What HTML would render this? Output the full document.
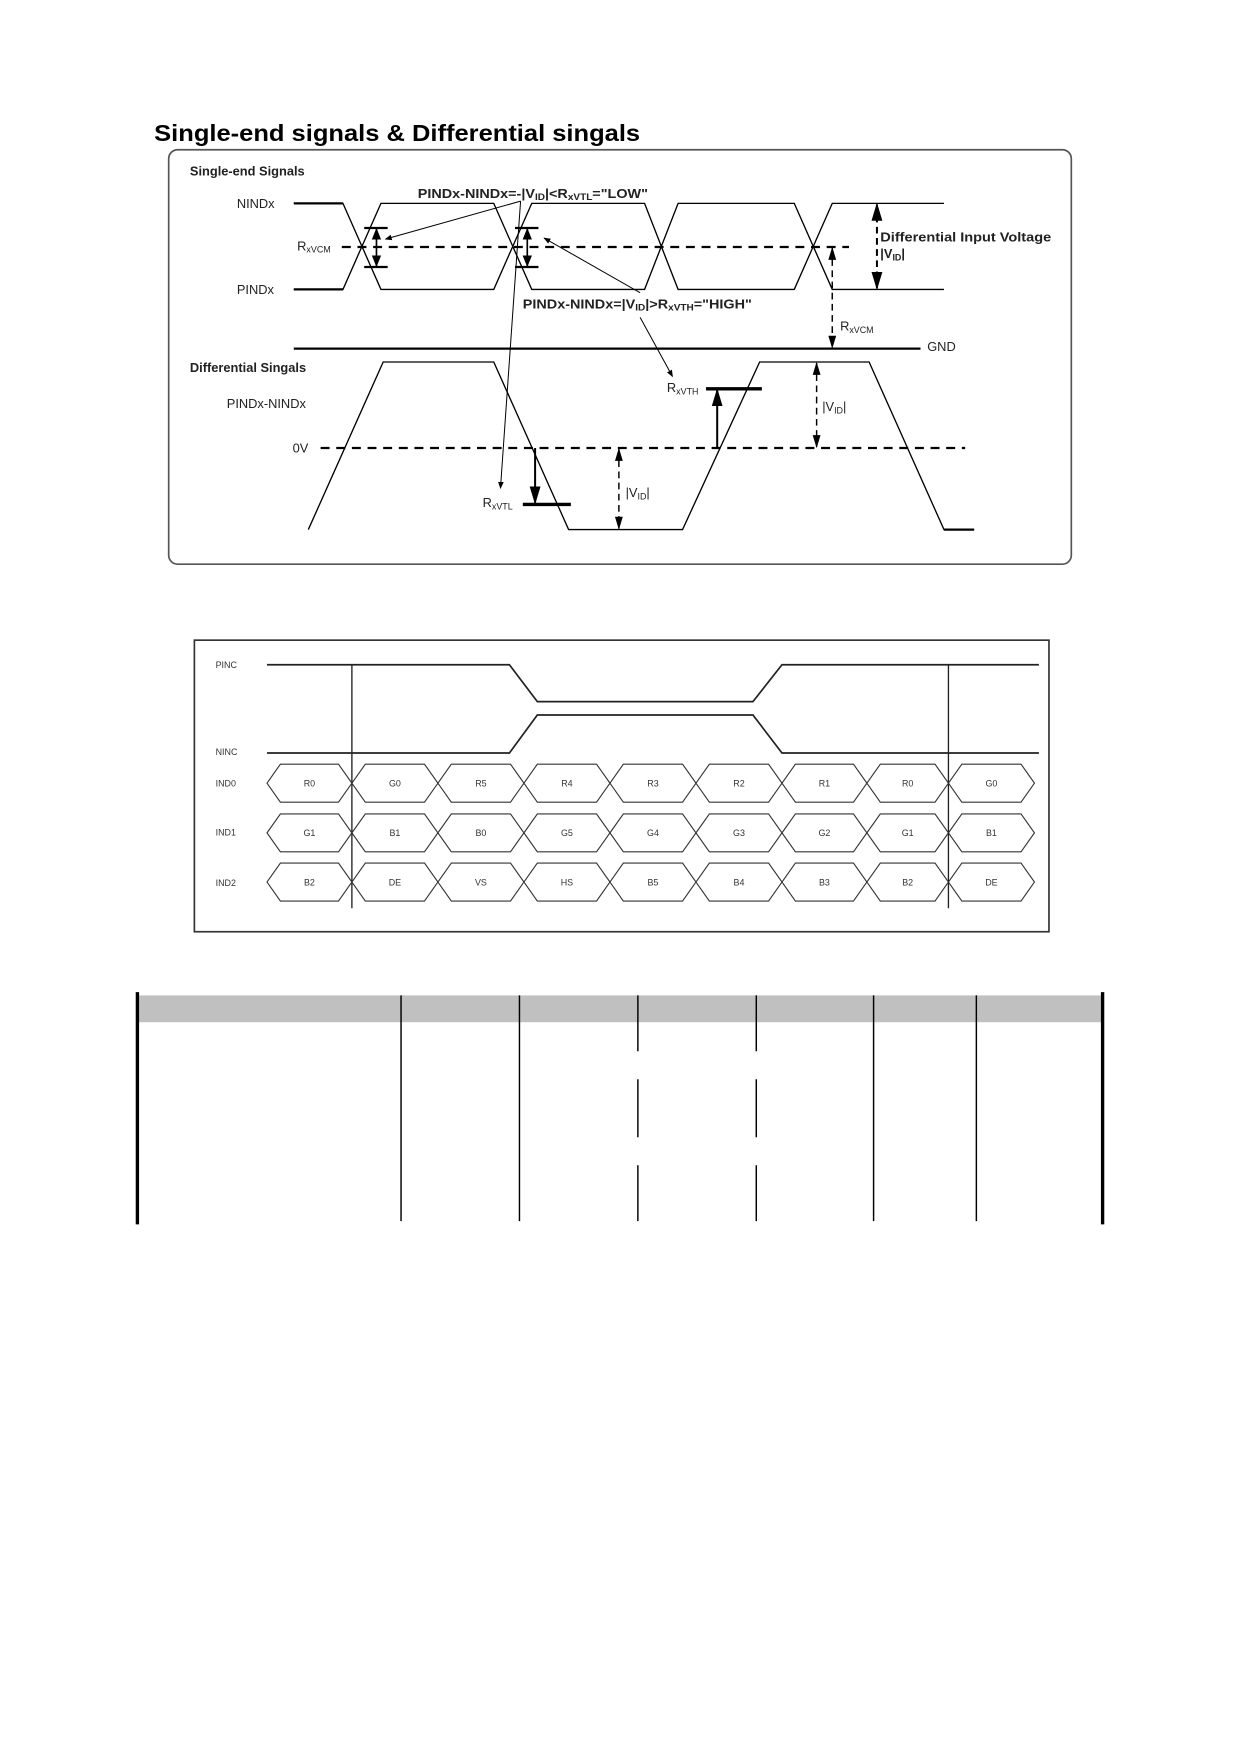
<!DOCTYPE html>
<html><head><meta charset="utf-8"><style>
html,body{margin:0;padding:0;background:#fff}
svg{display:block}
text{font-family:"Liberation Sans",Arial,sans-serif}
</style></head><body>
<svg width="1240" height="1754" viewBox="0 0 1110 1570" xmlns="http://www.w3.org/2000/svg">
<defs>
<marker id="a" viewBox="0 0 10 10" refX="9" refY="5" markerWidth="7" markerHeight="7" orient="auto-start-reverse"><path d="M0,1 L10,5 L0,9 z" fill="#000"/></marker>
<marker id="s" viewBox="0 0 10 10" refX="9" refY="5" markerWidth="9" markerHeight="9" orient="auto-start-reverse"><path d="M0,2 L10,5 L0,8 z" fill="#000"/></marker>
</defs>
<text x="138" y="126" font-size="21" font-weight="bold" textLength="435" lengthAdjust="spacingAndGlyphs">Single-end signals &amp; Differential singals</text>
<rect x="151" y="134" width="808" height="371" rx="8" fill="none" stroke="#555" stroke-width="1.5"/>
<g font-size="11.5" fill="#222">
<text x="170" y="157" font-weight="bold">Single-end Signals</text>
<text x="212" y="186">NINDx</text>
<text x="212" y="263">PINDx</text>
<text x="266" y="224">R<tspan font-size="8" dy="2">xVCM</tspan></text>
<text x="374" y="177" font-weight="bold" textLength="206" lengthAdjust="spacingAndGlyphs">PINDx-NINDx=-|V<tspan font-size="8" dy="2">ID</tspan><tspan dy="-2">|&lt;R</tspan><tspan font-size="8" dy="2">xVTL</tspan><tspan dy="-2">="LOW"</tspan></text>
<text x="468" y="276" font-weight="bold" textLength="205" lengthAdjust="spacingAndGlyphs">PINDx-NINDx=|V<tspan font-size="8" dy="2">ID</tspan><tspan dy="-2">|&gt;R</tspan><tspan font-size="8" dy="2">xVTH</tspan><tspan dy="-2">="HIGH"</tspan></text>
<text x="788" y="216" font-weight="bold" textLength="153" lengthAdjust="spacingAndGlyphs">Differential Input Voltage</text>
<text x="788" y="231" font-weight="bold">|V<tspan font-size="8" dy="2">ID</tspan><tspan dy="-2">|</tspan></text>
<text x="752" y="296">R<tspan font-size="8" dy="2">xVCM</tspan></text>
<text x="830" y="314">GND</text>
<text x="170" y="333" font-weight="bold">Differential Singals</text>
<text x="203" y="365">PINDx-NINDx</text>
<text x="262" y="405">0V</text>
<text x="597" y="351">R<tspan font-size="8" dy="2">xVTH</tspan></text>
<text x="432" y="454">R<tspan font-size="8" dy="2">xVTL</tspan></text>
<text x="736" y="368">|V<tspan font-size="8" dy="2">ID</tspan><tspan dy="-2">|</tspan></text>
<text x="560" y="445">|V<tspan font-size="8" dy="2">ID</tspan><tspan dy="-2">|</tspan></text>
</g>
<g fill="none" stroke="#000" stroke-width="1.2">
<path d="M263,182 H307 L341,259 H442 L476,182 H577 L607,259 H711 L745,182 H845" />
<path d="M263,259 H307 L341,182 H442 L476,259 H577 L607,182 H711 L745,259 H845" />
<path d="M263,182 H307 M263,259 H307" stroke-width="2"/>
<path d="M306,221 H760" stroke-width="2" stroke-dasharray="8,6"/>
<path d="M263,312 H824" stroke-width="2"/>
<path d="M276,474 L343,324 H442 L509,474 H611 L680,324 H778 L845,474 H872"/>
<path d="M845,474 H872" stroke-width="2"/>
<path d="M287,401 H864" stroke-width="2" stroke-dasharray="8,6"/>
<path d="M326,204 H347 M326,239 H347 M461,204 H482 M461,239 H482" stroke-width="2"/>
<line x1="337" y1="205" x2="337" y2="238" marker-start="url(#a)" marker-end="url(#a)" stroke-width="1.5"/>
<line x1="472" y1="205" x2="472" y2="238" marker-start="url(#a)" marker-end="url(#a)" stroke-width="1.5"/>
<line x1="466" y1="180" x2="345" y2="214" marker-end="url(#a)" stroke-width="0.9"/>
<line x1="466" y1="180" x2="448" y2="437" marker-end="url(#a)" stroke-width="0.9"/>
<line x1="573" y1="262" x2="487" y2="213" marker-end="url(#a)" stroke-width="0.9"/>
<line x1="573" y1="284" x2="602" y2="337" marker-end="url(#a)" stroke-width="0.9"/>
<line x1="785" y1="183" x2="785" y2="258" stroke-dasharray="6,4" marker-start="url(#s)" marker-end="url(#s)" stroke-width="1.8"/>
<line x1="745" y1="222" x2="745" y2="311" stroke-dasharray="6,4" marker-start="url(#s)" marker-end="url(#s)" stroke-width="1.3"/>
<line x1="731" y1="325" x2="731" y2="400" stroke-dasharray="6,4" marker-start="url(#s)" marker-end="url(#s)" stroke-width="1.3"/>
<line x1="554" y1="402" x2="554" y2="473" stroke-dasharray="6,4" marker-start="url(#s)" marker-end="url(#s)" stroke-width="1.3"/>
<path d="M632,348 H682 M468,451.5 H511" stroke-width="3"/>
<line x1="642" y1="401" x2="642" y2="349" marker-end="url(#s)" stroke-width="1.8"/>
<line x1="479" y1="401" x2="479" y2="450" marker-end="url(#s)" stroke-width="1.8"/>
</g>
<rect x="174" y="573" width="765" height="261" fill="none" stroke="#333" stroke-width="1.5"/>
<g font-size="8" fill="#333">
<text x="193" y="598">PINC</text><text x="193" y="676">NINC</text>
<text x="193" y="704">IND0</text><text x="193" y="748">IND1</text><text x="193" y="793">IND2</text>
</g>
<g fill="none" stroke="#222" stroke-width="1.5">
<path d="M239,595 H456 L481,628 H674 L700,595 H930"/>
<path d="M239,674 H456 L481,640 H674 L700,674 H930"/>
</g>
<g stroke="#222" stroke-width="1.2"><line x1="315" y1="595" x2="315" y2="813"/><line x1="849" y1="595" x2="849" y2="813"/></g>
<path id="hr" fill="none" stroke="#333" stroke-width="1" d="M239,701 L251,684 H303 L315,701 L303,718 H251 Z M315,701 L327,684 H380 L392,701 L380,718 H327 Z M392,701 L404,684 H457 L469,701 L457,718 H404 Z M469,701 L481,684 H534 L546,701 L534,718 H481 Z M546,701 L558,684 H611 L623,701 L611,718 H558 Z M623,701 L635,684 H688 L700,701 L688,718 H635 Z M700,701 L712,684 H764 L776,701 L764,718 H712 Z M776,701 L788,684 H837 L849,701 L837,718 H788 Z M849,701 L861,684 H914 L926,701 L914,718 H861 Z"/>
<use href="#hr" transform="translate(0,44.5)"/>
<use href="#hr" transform="translate(0,88.5)"/>
<g font-size="8" fill="#333" text-anchor="middle">
<text x="277" y="704">R0</text><text x="353.5" y="704">G0</text><text x="430.5" y="704">R5</text><text x="507.5" y="704">R4</text><text x="584.5" y="704">R3</text><text x="661.5" y="704">R2</text><text x="738" y="704">R1</text><text x="812.5" y="704">R0</text><text x="887.5" y="704">G0</text>
<text x="277" y="748.5">G1</text><text x="353.5" y="748.5">B1</text><text x="430.5" y="748.5">B0</text><text x="507.5" y="748.5">G5</text><text x="584.5" y="748.5">G4</text><text x="661.5" y="748.5">G3</text><text x="738" y="748.5">G2</text><text x="812.5" y="748.5">G1</text><text x="887.5" y="748.5">B1</text>
<text x="277" y="792.5">B2</text><text x="353.5" y="792.5">DE</text><text x="430.5" y="792.5">VS</text><text x="507.5" y="792.5">HS</text><text x="584.5" y="792.5">B5</text><text x="661.5" y="792.5">B4</text><text x="738" y="792.5">B3</text><text x="812.5" y="792.5">B2</text><text x="887.5" y="792.5">DE</text>
</g>
<rect x="123" y="891" width="865" height="24" fill="#c0c0c0"/>
<g stroke="#000" stroke-width="1.3">
<line x1="123" y1="888" x2="123" y2="1096" stroke-width="3"/>
<line x1="987" y1="888" x2="987" y2="1096" stroke-width="3"/>
<line x1="359" y1="891" x2="359" y2="1093"/>
<line x1="465" y1="891" x2="465" y2="1093"/>
<line x1="782" y1="891" x2="782" y2="1093"/>
<line x1="874" y1="891" x2="874" y2="1093"/>
<path d="M571,891 V941 M571,966 V1018 M571,1043 V1093 M677,891 V941 M677,966 V1018 M677,1043 V1093"/>
</g>
</svg>
</body></html>
